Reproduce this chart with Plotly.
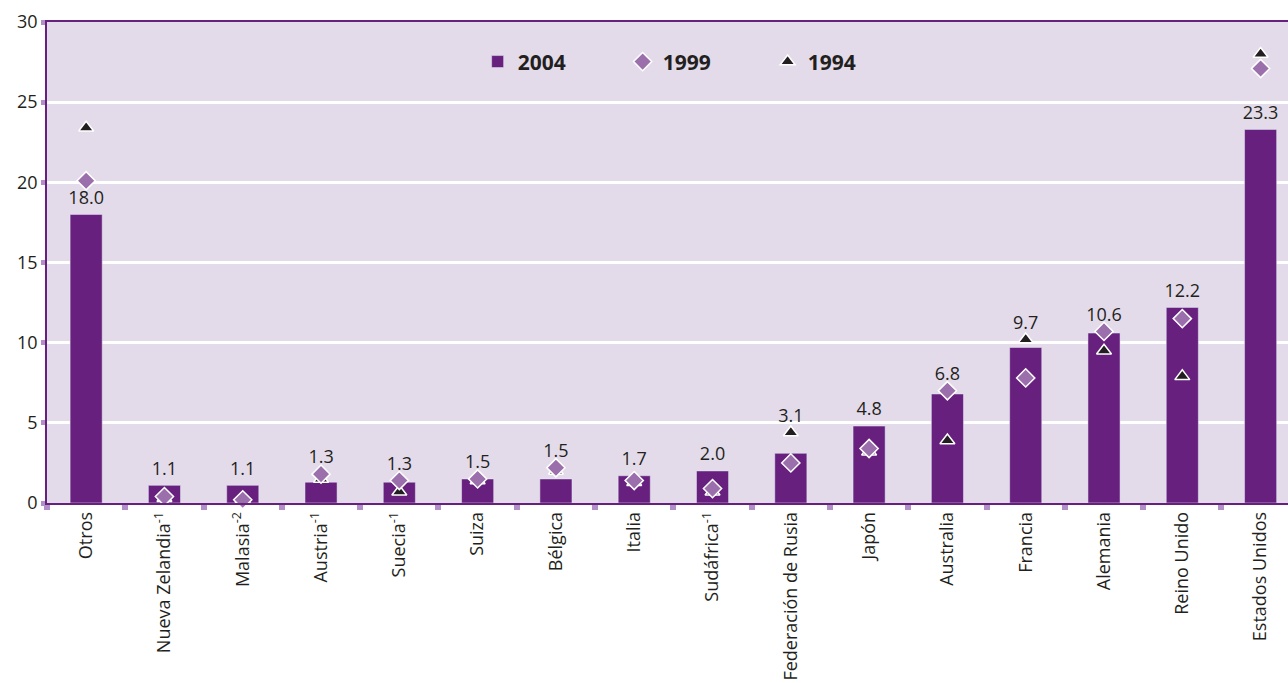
import plotly.graph_objects as go

categories = ["Otros", "Nueva Zelandia<sup>-1</sup>", "Malasia<sup>-2</sup>", "Austria<sup>-1</sup>",
              "Suecia<sup>-1</sup>", "Suiza", "Bélgica", "Italia", "Sudáfrica<sup>-1</sup>",
              "Federación de Rusia", "Japón", "Australia", "Francia", "Alemania",
              "Reino Unido", "Estados Unidos"]
v2004 = [18.0, 1.1, 1.1, 1.3, 1.3, 1.5, 1.5, 1.7, 2.0, 3.1, 4.8, 6.8, 9.7, 10.6, 12.2, 23.3]
v1999 = [20.1, 0.4, 0.2, 1.8, 1.4, 1.5, 2.2, 1.4, 0.9, 2.5, 3.4, 7.0, 7.8, 10.7, 11.5, 27.1]
v1994 = [23.4, 0.3, 0.2, 1.5, 0.7, 1.4, 2.0, 1.3, 0.7, 4.4, 3.2, 3.9, 10.2, 9.5, 7.9, 28.0]
labels2004 = [f"{v:.1f}" for v in v2004]

BAR = "#68207e"
DIA = "#9b6fab"
TRI = "#231f20"
TICKC = "#b28fc6"
TXT = "#231f20"
FONT = "Open Sans"

# label placement: just above the bar, or above a nearby marker that sits just over it
label_base = []
for b, d, t in zip(v2004, v1999, v1994):
    near = [m for m in (d, t) if m - b < 2]
    label_base.append(max([b] + near))
label_y = [v + 0.95 for v in label_base]

fig = go.Figure()
fig.add_trace(go.Bar(
    x=categories, y=v2004, name="2004", marker_color=BAR, width=0.41, legendrank=1,
))
fig.add_trace(go.Scatter(
    x=categories, y=v1994, name="1994", mode="markers", cliponaxis=False,
    marker=dict(symbol="triangle-up", size=13, color=TRI, line=dict(color="white", width=1.5)),
    legendrank=3,
))
fig.add_trace(go.Scatter(
    x=categories, y=v1999, name="1999", mode="markers", cliponaxis=False,
    marker=dict(symbol="diamond", size=14, color=DIA, line=dict(color="white", width=1.5)),
    legendrank=2,
))
fig.add_trace(go.Scatter(
    x=categories, y=label_y, mode="text", text=labels2004, textposition="middle center",
    textfont=dict(size=18, color=TXT, family=FONT), showlegend=False, cliponaxis=False,
    hoverinfo="skip",
))

fig.update_layout(
    width=1288, height=683,
    margin=dict(l=47, r=0, t=22, b=180),
    paper_bgcolor="white", plot_bgcolor="#e3dbea",
    font=dict(family=FONT, color=TXT),
    showlegend=True,
    legend=dict(orientation="h", x=0.347, xanchor="left", y=0.917, yanchor="middle",
                bgcolor="rgba(0,0,0,0)", entrywidth=100, entrywidthmode="pixels",
                font=dict(size=21, family=FONT, color=TXT, weight="bold"),
                traceorder="normal"),
)
fig.update_xaxes(
    range=[-0.5, 15.35], showline=True, linecolor=BAR, linewidth=1.5, mirror=True,
    ticks="outside", tickson="boundaries", ticklen=5, tickwidth=6, tickcolor=TICKC,
    tickangle=-90, tickfont=dict(size=18, family=FONT, color=TXT),
    showgrid=False, automargin=False,
)
fig.update_yaxes(
    range=[0, 30], dtick=5, showline=True, linecolor=BAR, linewidth=1.5,
    ticks="outside", ticklen=4, tickwidth=5, tickcolor=TICKC,
    tickfont=dict(size=18, family=FONT, color=TXT),
    showgrid=True, gridcolor="white", gridwidth=2.5, zeroline=False, automargin=False,
)

fig.write_html("out.html", config={"displayModeBar": False},
               post_script="document.body.style.margin='0';")
